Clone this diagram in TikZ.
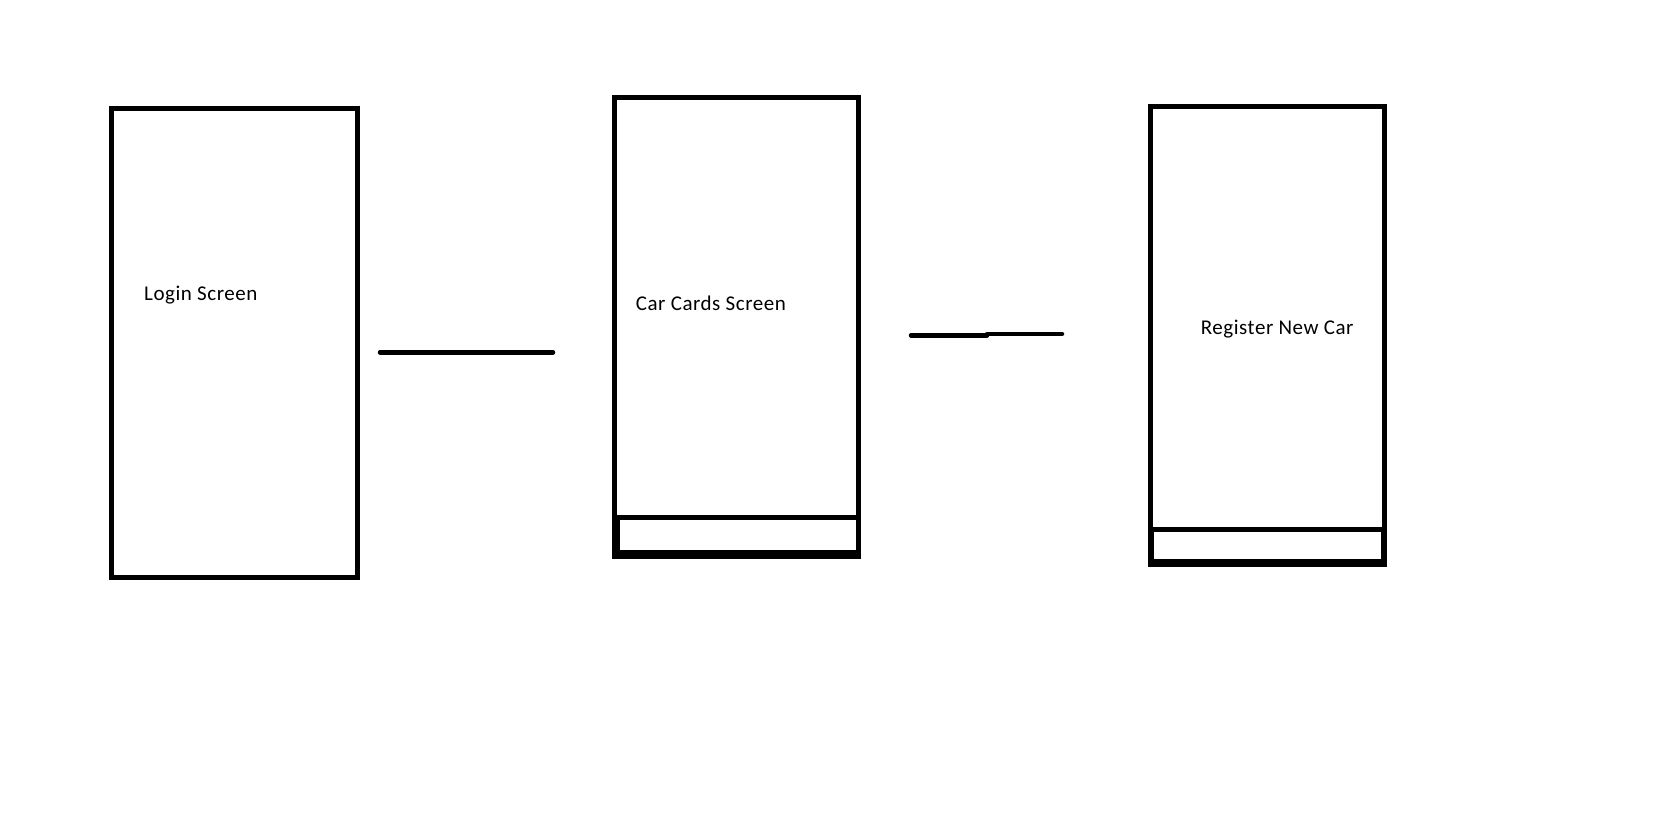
\documentclass[tikz,border=0pt]{standalone}
\usepackage{fontspec}
\setmainfont{Carlito}[LetterSpace=2.5]
\begin{document}
\begin{tikzpicture}[x=1pt,y=-1pt,
  screen/.style={draw=black, line width=5pt, inner sep=0pt, outer sep=0pt},
  lbl/.style={anchor=base west, inner sep=0pt, font=\fontsize{21}{24}\selectfont},
  link/.style={line width=4.5pt, line cap=round}]
\useasboundingbox (0,0) rectangle (1656,827);
\fill[white] (0,0) rectangle (1656,827);
% screens
\node[screen, minimum width=246pt, minimum height=469.5pt] (login) at (234.5,342.75) {};
\node[screen, minimum width=244pt, minimum height=459pt] (cards) at (736.5,327) {};
\node[screen, minimum width=241pt, minimum height=34.5pt] (cardsbar) at (738,534.75) {};
\node[screen, minimum width=233.7pt, minimum height=457.7pt] (reg) at (1267.35,335.35) {};
\node[screen, minimum width=232pt, minimum height=32.3pt] (regbar) at (1267,545.35) {};
% labels
\node[lbl] (t1) at (144,300.7) {Login Screen};
\node[lbl] (t2) at (635.7,310) {Car Cards Screen};
\node[lbl] (t3) at (1200.7,334) {Register New Car};
% connectors
\coordinate (a1) at (380,352.3);
\coordinate (a2) at (553,352.3);
\coordinate (b1) at (911,335.3);
\coordinate (b2) at (987,335.3);
\coordinate (b3) at (987,334);
\coordinate (b4) at (1062,334);
\draw[link] (a1) -- (a2);
\draw[link] (b1) -- (b2);
\draw[link] (b3) -- (b4);
\end{tikzpicture}
\end{document}
